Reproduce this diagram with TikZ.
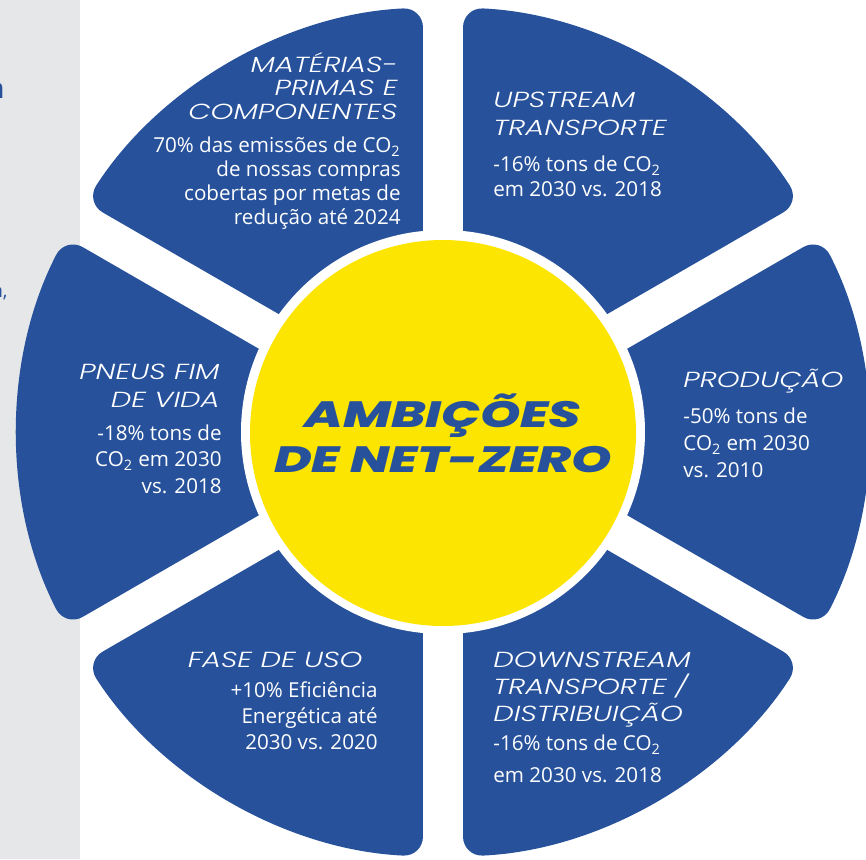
\documentclass[tikz,border=0pt]{standalone}
\usepackage{fontspec}
\setmainfont{Open Sans}
\newfontfamily\headfont{Poppins Light Italic}[FakeStretch=1.33]
\newfontfamily\herofont{Poppins ExtraBold Italic}[FakeStretch=1.4]
\usetikzlibrary{positioning}
\definecolor{tyreBlue}{HTML}{27529B}
\definecolor{sunYellow}{HTML}{FCE500}
\definecolor{sideGrey}{HTML}{E6E7E9}

\tikzset{
  petal/.style={fill=tyreBlue,rounded corners=10pt},
  hub/.style={circle,fill=sunYellow,minimum size=193pt,inner sep=0pt,
              align=center,text=tyreBlue,font=\herofont\fontsize{18.3}{22.5}\selectfont},
  headtxt/.style={text=white,inner sep=0pt,font=\headfont\fontsize{10.9}{#1}\selectfont},
  headtxt/.default=13.75,
  bodytxt/.style={text=white,inner sep=0pt,font=\fontsize{10.3}{#1}\selectfont},
  bodytxt/.default=13,
}

\begin{document}
\begin{tikzpicture}[x=0.5pt,y=0.5pt]
\useasboundingbox (-443,-427) rectangle (423,432);
\fill[sideGrey] (-443,-427) rectangle (-363,432);
\node[anchor=base east,inner sep=0pt,text=tyreBlue,font=\bfseries\fontsize{14}{16}\selectfont] (cut1) at (-438,334) {n};
\node[anchor=base east,inner sep=0pt,text=tyreBlue,font=\fontsize{9.5}{11}\selectfont] (cut2) at (-435,135) {n,};

% six petals round the hub
\foreach \a in {0,60,...,300}
  \fill[petal] (\a:40) -- (\a-27.3:425) arc[start angle=\a-27.3,end angle=\a+27.3,radius=425] -- cycle;
\fill[white] (0,0) circle[radius=202];
\node[hub] (hub) at (0,-1) {AMBIÇÕES\\DE NET-ZERO};

% labels
\node[headtxt=11.75,align=right,anchor=north east] (matHead) at (-45,380) {MATÉRIAS-\\PRIMAS E\\COMPONENTES};
\node[bodytxt=11.85,align=right,below=8.5pt of matHead.south east,anchor=north east,xshift=1.5pt] (matBody)
  {70\% das emissões de CO\textsubscript{2}\\de nossas compras\\cobertas por metas de\\redução até 2024};

\node[headtxt,align=left,anchor=north west] (upHead) at (50,340) {UPSTREAM\\TRANSPORTE};
\node[bodytxt=12.5,align=left,below=10pt of upHead.south west,anchor=north west] (upBody)
  {-16\% tons de CO\textsubscript{2}\\em 2030 vs. 2018};

\node[headtxt,align=left,anchor=north west] (prodHead) at (240,63) {PRODUÇÃO};
\node[bodytxt=13.5,align=left,below=7pt of prodHead.south west,anchor=north west] (prodBody)
  {-50\% tons de\\CO\textsubscript{2} em 2030\\vs. 2010};

\node[headtxt=14,align=right,anchor=north east] (pneuHead) at (-223,68) {PNEUS FIM\\DE VIDA};
\node[bodytxt=13.25,align=right,below=8pt of pneuHead.south east,anchor=north east,xshift=1pt] (pneuBody)
  {-18\% tons de\\CO\textsubscript{2} em 2030\\vs. 2018};

\node[headtxt,align=right,anchor=north east] (useHead) at (-80,-220) {FASE DE USO};
\node[bodytxt,align=right,below=6.5pt of useHead.south east,anchor=north east,xshift=7.5pt] (useBody)
  {+10\% Eficiência\\Energética até\\2030 vs. 2020};

\node[headtxt=13.5,align=left,anchor=north west] (downHead) at (50,-220) {DOWNSTREAM\\TRANSPORTE /\\DISTRIBUIÇÃO};
\node[bodytxt=16,align=left,below=3.5pt of downHead.south west,anchor=north west] (downBody)
  {-16\% tons de CO\textsubscript{2}\\em 2030 vs. 2018};
\end{tikzpicture}
\end{document}
